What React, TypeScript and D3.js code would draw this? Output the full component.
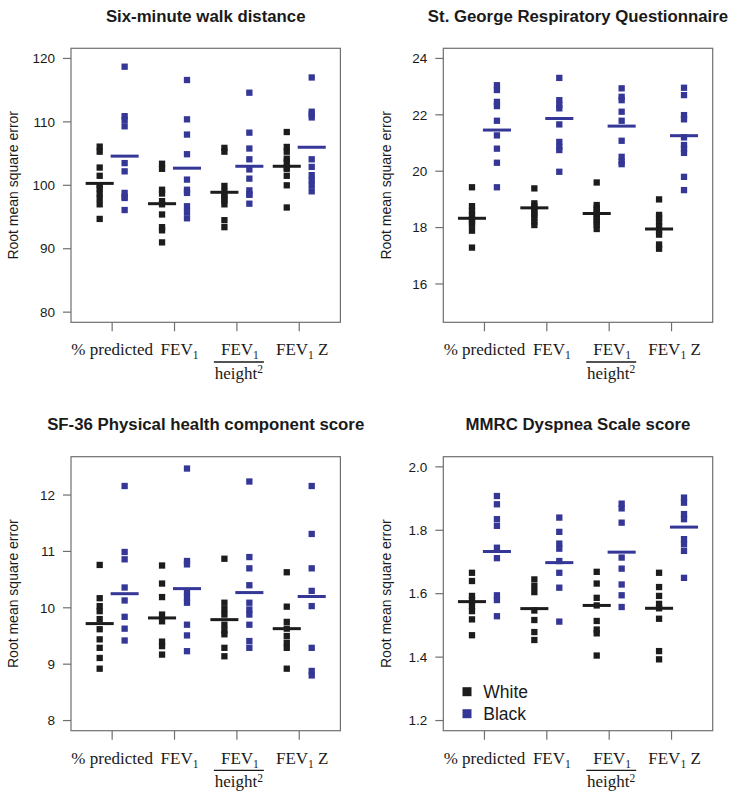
import React from "react";
import * as d3 from "d3";

// ---------- data ----------
const groupLabels = ["% predicted", "FEV1", "FEV1/height2", "FEV1 Z"];
const panelTitles = [
  "Six-minute walk distance",
  "St. George Respiratory Questionnaire",
  "SF-36 Physical health component score",
  "MMRC Dyspnea Scale score",
];
const yLimits: [number, number][] = [[80, 120], [15, 24], [8, 12.5], [1.2, 2.0]];
const yTicks: number[][] = [
  [80, 90, 100, 110, 120],
  [16, 18, 20, 22, 24],
  [8, 9, 10, 11, 12],
  [1.2, 1.4, 1.6, 1.8, 2.0],
];
const yTickDecimals = [0, 0, 0, 1];

const walkWhite = [
  [106.1, 105.3, 102.8, 101.5, 100.0, 99.5, 98.7, 97.9, 97.0, 94.7],
  [103.4, 102.6, 99.3, 98.7, 97.5, 97.0, 95.4, 93.4, 92.9, 91.0],
  [105.9, 105.3, 99.9, 99.0, 98.5, 98.0, 97.6, 97.0, 94.5, 93.4],
  [108.4, 106.05, 105.3, 104.2, 103.7, 102.8, 102.6, 101.5, 100.0, 96.5],
];
const walkBlack = [
  [118.7, 110.9, 110.3, 109.3, 103.5, 102.2, 98.8, 98.2, 98.0, 96.1],
  [116.6, 110.4, 108.0, 104.9, 100.9, 99.3, 98.8, 96.7, 95.8, 94.8],
  [114.6, 108.3, 105.8, 104.1, 102.5, 101.05, 99.2, 98.6, 98.5, 97.1],
  [117.0, 111.6, 111.2, 110.7, 104.1, 102.9, 101.6, 100.8, 100.0, 99.05],
];
const walkWhiteMean = [100.3, 97.1, 98.9, 103.0];
const walkBlackMean = [104.6, 102.7, 103.0, 106.0];

const sgrqWhite = [
  [19.43, 18.76, 18.6, 18.45, 18.3, 18.2, 18.1, 17.89, 17.29],
  [19.39, 18.86, 18.75, 18.65, 18.55, 18.45, 18.35, 18.2, 18.09],
  [19.6, 18.8, 18.7, 18.6, 18.5, 18.4, 18.3, 18.2, 18.1, 17.95],
  [19.0, 18.45, 18.35, 18.2, 18.05, 17.9, 17.75, 17.4, 17.25],
];
const sgrqBlack = [
  [23.05, 22.88, 22.46, 22.31, 21.79, 21.27, 20.8, 20.3, 19.43],
  [23.31, 22.52, 22.35, 22.23, 21.66, 21.04, 20.87, 20.75, 19.98],
  [22.94, 22.64, 22.52, 22.11, 21.79, 21.08, 20.51, 20.34, 20.25],
  [22.96, 22.7, 21.99, 21.84, 21.2, 20.93, 20.8, 20.65, 19.8, 19.33],
];
const sgrqWhiteMean = [18.33, 18.7, 18.5, 17.95];
const sgrqBlackMean = [21.46, 21.87, 21.6, 21.26];

const sf36White = [
  [10.76, 10.17, 10.03, 9.94, 9.8, 9.62, 9.44, 9.29, 9.11, 8.92],
  [10.75, 10.43, 10.19, 9.88, 9.76, 9.4, 9.32, 9.17],
  [10.87, 10.09, 9.98, 9.88, 9.7, 9.6, 9.53, 9.29, 9.14],
  [10.63, 10.02, 9.75, 9.63, 9.5, 9.38, 9.29, 8.92],
];
const sf36Black = [
  [12.16, 10.99, 10.86, 10.36, 10.13, 9.84, 9.63, 9.42],
  [12.47, 10.83, 10.77, 10.27, 10.18, 10.09, 9.7, 9.51, 9.23],
  [12.24, 10.9, 10.7, 10.4, 10.09, 9.97, 9.88, 9.7, 9.41, 9.29],
  [12.16, 11.31, 10.7, 10.3, 10.03, 9.29, 8.88, 8.8],
];
const sf36WhiteMean = [9.72, 9.82, 9.79, 9.63];
const sf36BlackMean = [10.25, 10.34, 10.27, 10.2];

const mmrcWhite = [
  [1.666, 1.64, 1.593, 1.58, 1.561, 1.545, 1.519, 1.469],
  [1.645, 1.624, 1.605, 1.547, 1.517, 1.479, 1.454],
  [1.669, 1.632, 1.587, 1.563, 1.514, 1.487, 1.475, 1.405],
  [1.666, 1.621, 1.593, 1.568, 1.554, 1.521, 1.419, 1.393],
];
const mmrcBlack = [
  [1.908, 1.882, 1.835, 1.814, 1.745, 1.712, 1.595, 1.58, 1.529],
  [1.84, 1.795, 1.758, 1.742, 1.703, 1.666, 1.619, 1.512],
  [1.884, 1.869, 1.824, 1.714, 1.679, 1.629, 1.595, 1.558],
  [1.903, 1.887, 1.851, 1.835, 1.772, 1.756, 1.735, 1.65],
];
const mmrcWhiteMean = [1.575, 1.553, 1.563, 1.554];
const mmrcBlackMean = [1.733, 1.698, 1.731, 1.81];

const legendLabels = ["White", "Black"];

// ---------- layout / style ----------
const W = 739;
const H = 794;
const boxW = 269.4;
const boxH = 274;
const boxLefts = [71, 443.3];
const boxTops = [48.3, 456.7];
const colWhite = "#1c1c1c";
const colBlack = "#343796";
const axisCol = "#6f6f6f";
const sansFont = "Arial, 'Liberation Sans', sans-serif";
const serifFont = "'Liberation Serif', 'Times New Roman', serif";
const groupOffset = 0.2;
const meanHalf = 0.225;
const pt = 6.3;

const panels = [
  { white: walkWhite, black: walkBlack, wm: walkWhiteMean, bm: walkBlackMean },
  { white: sgrqWhite, black: sgrqBlack, wm: sgrqWhiteMean, bm: sgrqBlackMean },
  { white: sf36White, black: sf36Black, wm: sf36WhiteMean, bm: sf36BlackMean },
  { white: mmrcWhite, black: mmrcBlack, wm: mmrcWhiteMean, bm: mmrcBlackMean },
];

function XLabel({ idx, x, y }: { idx: number; x: number; y: number }) {
  const fs = 17;
  const sub = 11.5;
  const common = { fontFamily: serifFont, fontSize: fs, fill: "#1a1a1a", textAnchor: "middle" as const };
  if (idx === 0) {
    return <text x={x} y={y} {...common}>{groupLabels[0]}</text>;
  }
  if (idx === 1) {
    return (
      <text x={x + 5} y={y} {...common}>
        FEV<tspan dy={4} fontSize={sub}>1</tspan>
      </text>
    );
  }
  if (idx === 2) {
    return (
      <g>
        <text x={x + 3} y={y} {...common}>
          FEV<tspan dy={4} fontSize={sub}>1</tspan>
        </text>
        <line x1={x - 23} x2={x + 27} y1={y + 6.7} y2={y + 6.7} stroke="#1a1a1a" strokeWidth={1.3} />
        <text x={x + 2} y={y + 23.3} {...common}>
          height<tspan dy={-5.5} fontSize={sub}>2</tspan>
        </text>
      </g>
    );
  }
  return (
    <text x={x + 3} y={y} {...common}>
      FEV<tspan dy={4} fontSize={sub}>1</tspan>
      <tspan dy={-4}> Z</tspan>
    </text>
  );
}

function Panel({ i }: { i: number }) {
  const left = boxLefts[i % 2];
  const top = boxTops[Math.floor(i / 2)];
  const [lo, hi] = yLimits[i];
  const ext = (hi - lo) * 0.04;
  const x = d3.scaleLinear().domain([0.34, 4.66]).range([left, left + boxW]);
  const y = d3.scaleLinear().domain([lo - ext, hi + ext]).range([top + boxH, top]);
  const p = panels[i];
  const fmt = d3.format(`.${yTickDecimals[i]}f`);
  const series = [
    { vals: p.white, means: p.wm, off: -groupOffset, col: colWhite },
    { vals: p.black, means: p.bm, off: groupOffset, col: colBlack },
  ];
  return (
    <g>
      <text
        x={left + boxW / 2}
        y={top - 26.6}
        textAnchor="middle"
        fontFamily={sansFont}
        fontWeight="bold"
        fontSize={16.8}
        fill="#1a1a1a"
      >
        {panelTitles[i]}
      </text>
      <rect x={left} y={top} width={boxW} height={boxH} fill="none" stroke={axisCol} strokeWidth={1.2} />
      {yTicks[i].map((t) => (
        <g key={t}>
          <line x1={left - 8} x2={left} y1={y(t)} y2={y(t)} stroke={axisCol} strokeWidth={1.2} />
          <text
            x={left - 16}
            y={y(t)}
            dy="0.35em"
            textAnchor="end"
            fontFamily={sansFont}
            fontSize={13.5}
            fill="#1a1a1a"
          >
            {fmt(t)}
          </text>
        </g>
      ))}
      <text
        transform={`translate(${left - 52.7},${top + boxH / 2}) rotate(-90)`}
        textAnchor="middle"
        fontFamily={sansFont}
        fontSize={14}
        fill="#1a1a1a"
      >
        Root mean square error
      </text>
      {groupLabels.map((g, gi) => (
        <g key={g}>
          <line
            x1={x(gi + 1)}
            x2={x(gi + 1)}
            y1={top + boxH}
            y2={top + boxH + 9}
            stroke={axisCol}
            strokeWidth={1.2}
          />
          <XLabel idx={gi} x={x(gi + 1)} y={top + boxH + 33} />
        </g>
      ))}
      {series.map((s, si) =>
        s.vals.map((arr, gi) => (
          <g key={`${si}-${gi}`}>
            {arr.map((v, k) => (
              <rect
                key={k}
                x={x(gi + 1 + s.off) - pt / 2}
                y={y(v) - pt / 2}
                width={pt}
                height={pt}
                fill={s.col}
              />
            ))}
            <line
              x1={x(gi + 1 + s.off - meanHalf)}
              x2={x(gi + 1 + s.off + meanHalf)}
              y1={y(s.means[gi])}
              y2={y(s.means[gi])}
              stroke={s.col}
              strokeWidth={3}
            />
          </g>
        ))
      )}
      {i === 3 &&
        legendLabels.map((l, li) => (
          <g key={l}>
            <rect
              x={left + 19.2}
              y={top + 230.5 + li * 22 }
              width={9}
              height={9}
              fill={li === 0 ? colWhite : colBlack}
            />
            <text
              x={left + 40}
              y={top + 241 + li * 22}
              fontFamily={sansFont}
              fontSize={17.5}
              fill="#1a1a1a"
            >
              {l}
            </text>
          </g>
        ))}
    </g>
  );
}

export default function App() {
  return (
    <svg
      width={W}
      height={H}
      style={{ position: "absolute", left: 0, top: 0, background: "#fff" }}
    >
      <rect x={0} y={0} width={W} height={H} fill="#fff" />
      {[0, 1, 2, 3].map((i) => (
        <Panel key={i} i={i} />
      ))}
    </svg>
  );
}
